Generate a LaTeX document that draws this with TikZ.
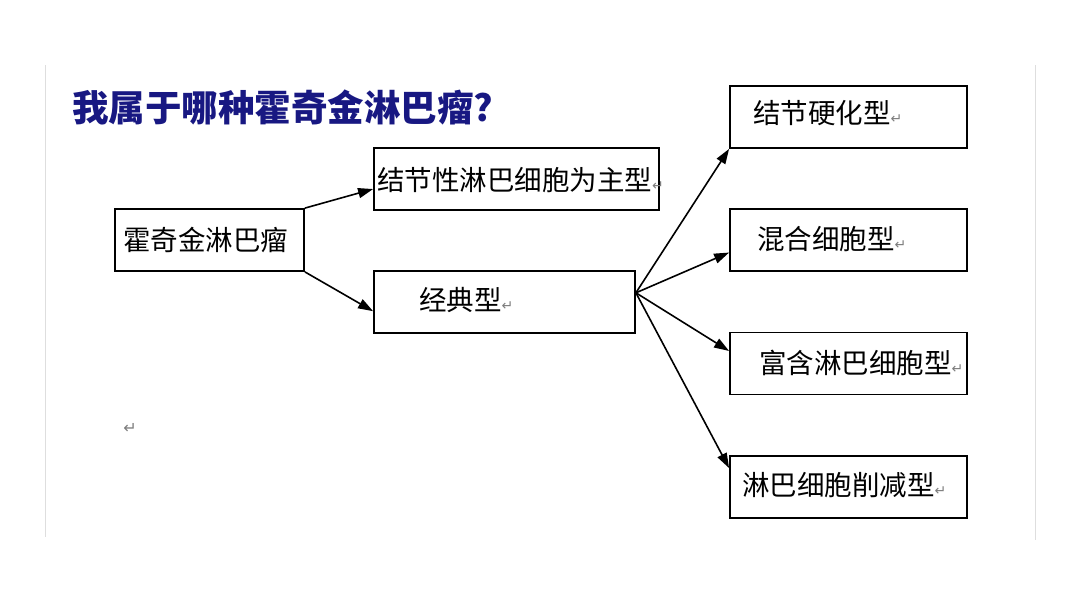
\documentclass[tikz,border=0pt]{standalone}
\usepackage{fontspec}
\newfontfamily\cjk{Noto Sans CJK SC}
\newfontfamily\symfont{DejaVu Sans}
\usetikzlibrary{arrows.meta}
\definecolor{titleblue}{RGB}{24,24,130}
\definecolor{markgray}{RGB}{125,125,125}
\definecolor{edgegray}{RGB}{222,222,222}
\newcommand{\retmark}{{\symfont\fontsize{14}{14}\selectfont\color{markgray}↵}}

\begin{document}
\begin{tikzpicture}[x=1pt, y=-1pt,
		box/.style={draw, line width=1.8pt, rectangle, inner sep=0pt, minimum height=62pt},
		boxtext/.style={anchor=west, inner sep=0pt, font=\cjk\fontsize{27.5}{30}\selectfont},
		link/.style={line width=1.6pt, -{Triangle[length=15pt, width=10pt]}}]
			\useasboundingbox (0,0) rectangle (1080,592);
			% page edges
			\draw[edgegray, line width=1pt] (45,65) -- (45,537);
			\draw[edgegray, line width=1pt] (1035,65) -- (1035,540);
			% title
			\node[anchor=west, inner sep=0pt, text=titleblue, font=\cjk\bfseries\fontsize{36.5}{40}\selectfont] (title) at (72,107) {我属于哪种霍奇金淋巴瘤?};
			% boxes
			\node[box, minimum width=189pt] (root) at (209.5,240) {};
			\node[box, minimum width=285pt] (nlp) at (516.5,179) {};
			\node[box, minimum width=261pt] (classic) at (504.5,302) {};
			\node[box, minimum width=237pt] (ns) at (848.5,117) {};
			\node[box, minimum width=237pt] (mc) at (848.5,240) {};
			\node[box, minimum width=237pt] (lr) at (848.5,363.5) {};
			\node[box, minimum width=237pt] (ld) at (848.5,487) {};
			% texts
			\node[boxtext] (rootlbl) at (123,240) {霍奇金淋巴瘤};
			\node[boxtext] (nlplbl) at (377,180) {结节性淋巴细胞为主型\retmark};
			\node[boxtext] (classiclbl) at (419,300) {经典型\retmark};
			\node[boxtext] (nslbl) at (753,113) {结节硬化型\retmark};
			\node[boxtext] (mclbl) at (757,239) {混合细胞型\retmark};
			\node[boxtext] (lrlbl) at (759,363) {富含淋巴细胞型\retmark};
			\node[boxtext] (ldlbl) at (742,485) {淋巴细胞削减型\retmark};
			\node[inner sep=0pt, text=markgray, font=\symfont\fontsize{16}{16}\selectfont] (endmark) at (130,428) {↵};
			% arrows
			\draw[link] (root.north east) -- (nlp.184);
			\draw[link] (root.south east) -- (classic.184);
			\draw[link] (classic.4) -- (ns.south west);
			\draw[link] (classic.4) -- (mc.186);
			\draw[link] (classic.4) -- (lr.174);
			\draw[link] (classic.4) -- (ld.171);
		\end{tikzpicture}
\end{document}
